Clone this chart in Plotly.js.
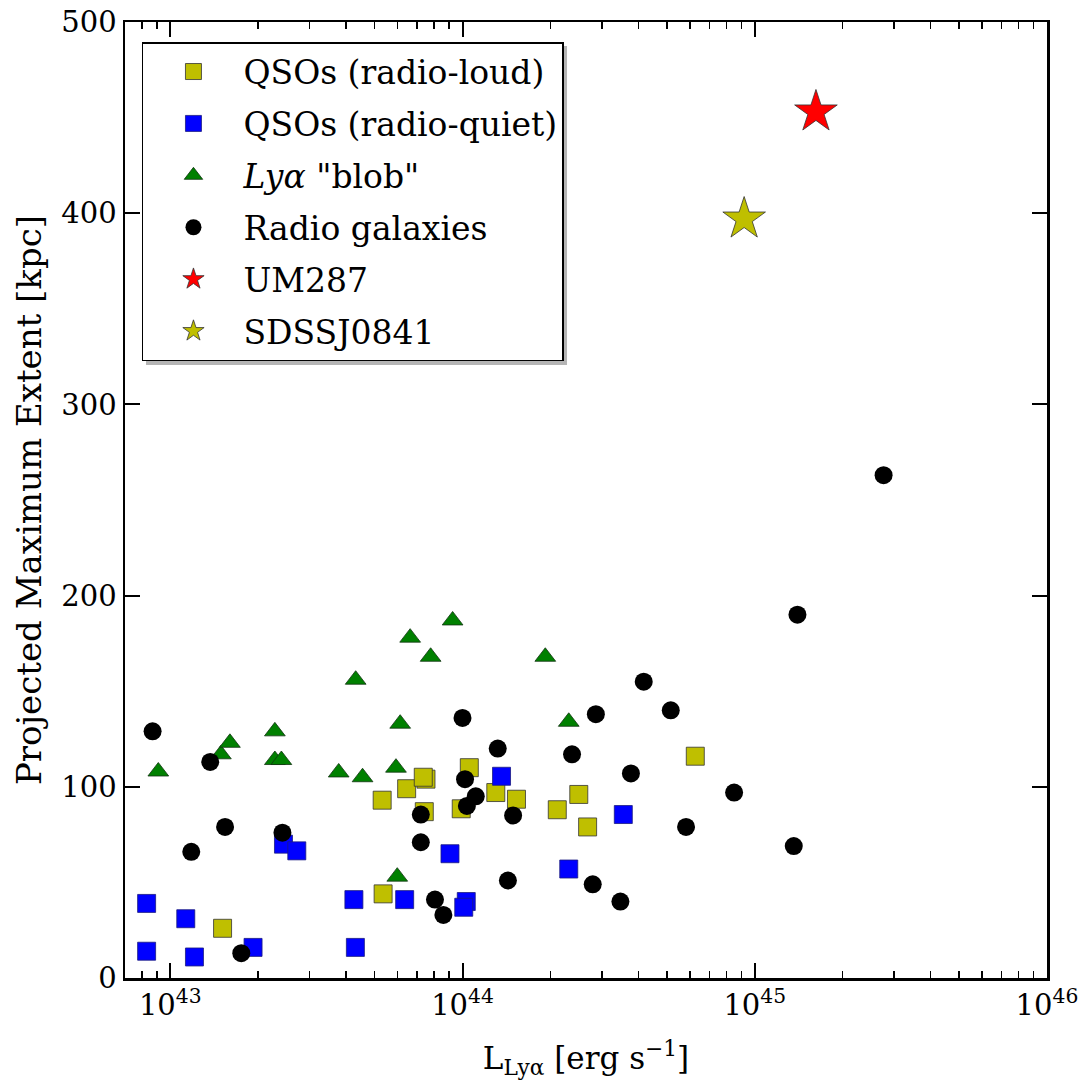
<!DOCTYPE html>
<html>
<head>
<meta charset="utf-8">
<script src="https://cdn.plot.ly/plotly-3.0.1.min.js"></script>
<style>html,body{margin:0;padding:0;background:#fff;}</style>
</head>
<body>
<div id="chart" style="width:1082px;height:1088px;"></div>
<script>
// Lyα luminosity [erg s^-1] and projected maximum extent [kpc] per sample

// QSOs (radio-loud)
const rlQsoLum = [1.51e43, 5.31e43, 6.44e43, 7.5e43, 7.34e43, 7.4e43, 5.35e43, 1.055e44, 9.9e43,
                  1.30e44, 1.53e44, 2.11e44, 2.50e44, 2.68e44, 6.26e44];
const rlQsoExt = [26, 93, 99, 104, 105, 87, 44, 110, 88.5, 97, 93.5, 88, 96, 79, 116];

// QSOs (radio-quiet)
const rqQsoLum = [8.3e42, 8.3e42, 1.13e43, 1.21e43, 1.92e43, 2.44e43, 2.71e43, 4.25e43, 4.3e43,
                  6.34e43, 9.06e43, 1.03e44, 1.01e44, 1.36e44, 3.55e44, 2.31e44];
const rqQsoExt = [39, 14, 31, 11, 16, 70, 66.5, 41, 16, 41, 65, 40, 37, 105.5, 85.5, 57];

// Lyα "blobs"
const blobLum = [9.1e42, 1.49e43, 1.60e43, 2.28e43, 2.28e43, 2.40e43, 3.77e43, 4.55e43, 5.92e43,
                 6.12e43, 4.31e43, 6.62e43, 7.78e43, 9.25e43, 5.98e43, 1.92e44, 2.31e44];
const blobExt = [108, 117, 123, 129, 114, 114, 107.5, 105, 110, 133, 156, 178, 168, 187, 53, 168, 134];

// Radio galaxies
const rgLum = [8.7e42, 1.37e43, 1.18e43, 1.54e43, 2.42e43, 1.75e43, 1.00e44, 1.32e44, 1.02e44,
               1.11e44, 1.035e44, 7.2e43, 7.2e43, 1.49e44, 1.43e44, 8.05e43, 8.6e43, 4.17e44,
               2.86e44, 5.16e44, 2.37e44, 3.77e44, 5.82e44, 2.79e44, 3.47e44, 8.5e44, 1.36e45,
               2.76e45, 1.40e45];
const rgExt = [129, 113, 66, 79, 76, 13, 136, 120, 104, 95, 90, 85.5, 71, 85, 51, 41, 33, 155,
               138, 140, 117, 107, 79, 49, 40, 97, 69, 263, 190];

// Individual nebulae
const um287Lum = [1.62e45];
const um287Ext = [453];
const sdssLum = [9.2e44];
const sdssExt = [397];

const seriesNames = ['QSOs (radio-loud)', 'QSOs (radio-quiet)', '<i>Lyα</i> "blob"',
                     'Radio galaxies', 'UM287', 'SDSSJ0841'];

const xTickVals = [1e43, 1e44, 1e45, 1e46];
const xTickText = ['10<sup>43</sup>', '10<sup>44</sup>', '10<sup>45</sup>', '10<sup>46</sup>'];
const yTickVals = [0, 100, 200, 300, 400, 500];

// minor ticks at 2..9 x 10^n on the log axis
const minorVals = [];
for (let d = 42; d < 46; d++) {
  for (let k = 2; k <= 9; k++) minorVals.push(k * Math.pow(10, d));
}

const edge = {color: '#333', width: 0.8};
function series(x, y, name, symbol, color, size, line, group) {
  return {
    x: x, y: y, name: name, type: 'scatter', mode: 'markers',
    legendgroup: group,
    marker: {symbol: symbol, color: color, size: size, line: line}
  };
}

const data = [
  series(rlQsoLum, rlQsoExt, seriesNames[0], 'square', '#bfbf00', 18, edge, 'g1'),
  series(rqQsoLum, rqQsoExt, seriesNames[1], 'square', '#0000ff', 18, {color: '#1a1a80', width: 0.8}, 'g2'),
  series(blobLum, blobExt, seriesNames[2], 'triangle-up', '#008000', 18, {color: '#113311', width: 0.8}, 'g3'),
  series(rgLum, rgExt, seriesNames[3], 'circle', '#000000', 18, {color: '#000', width: 0}, 'g4'),
  series(um287Lum, um287Ext, seriesNames[4], 'star', '#ff0000', 32, edge, 'g5'),
  series(sdssLum, sdssExt, seriesNames[5], 'star', '#bfbf00', 32, edge, 'g6')
];

const serif = 'DejaVu Serif, serif';

const layout = {
  width: 1082, height: 1088,
  margin: {l: 125, r: 35, t: 22, b: 110, pad: 0},
  paper_bgcolor: '#fff', plot_bgcolor: '#fff',
  showlegend: true,
  font: {family: serif, color: '#000'},
  xaxis: {
    type: 'log',
    range: [Math.log10(7e42), 46.0001],
    tickmode: 'array', tickvals: xTickVals, ticktext: xTickText,
    showgrid: false, zeroline: false,
    showline: true, linecolor: '#000', linewidth: 2.5, mirror: 'allticks',
    ticks: 'inside', ticklen: 15, tickwidth: 2, tickcolor: '#000',
    tickfont: {family: serif, size: 29, color: '#000'},
    minor: {tickmode: 'array', tickvals: minorVals, ticks: 'inside', ticklen: 7, tickwidth: 1.5, tickcolor: '#000', showgrid: false},
    title: {text: 'L<sub>Lyα</sub> [erg s<sup>−1</sup>]', font: {family: serif, size: 31, color: '#000'}, standoff: 26}
  },
  yaxis: {
    range: [0, 500],
    tickmode: 'array', tickvals: yTickVals,
    showgrid: false, zeroline: false,
    showline: true, linecolor: '#000', linewidth: 2.5, mirror: 'allticks',
    ticks: 'inside', ticklen: 15, tickwidth: 2, tickcolor: '#000',
    tickfont: {family: serif, size: 29, color: '#000'},
    title: {text: 'Projected Maximum Extent [kpc]', font: {family: serif, size: 34, color: '#000'}, standoff: 10}
  },
  legend: {
    x: 0.0184, y: 0.979, xanchor: 'left', yanchor: 'top',
    bgcolor: '#fff', bordercolor: '#000', borderwidth: 1.5,
    font: {family: serif, size: 33, color: '#000'},
    itemwidth: 90, tracegroupgap: 6, traceorder: 'grouped'
  },
  // drop shadow behind the legend box
  shapes: [{
    type: 'rect', xref: 'paper', yref: 'paper', layer: 'above',
    x0: 0.0228, x1: 0.4794, y0: 0.6412, y1: 0.9749,
    fillcolor: 'rgba(120,120,120,0.55)', line: {width: 0}
  }]
};

Plotly.newPlot('chart', data, layout, {staticPlot: true});
</script>
</body>
</html>
